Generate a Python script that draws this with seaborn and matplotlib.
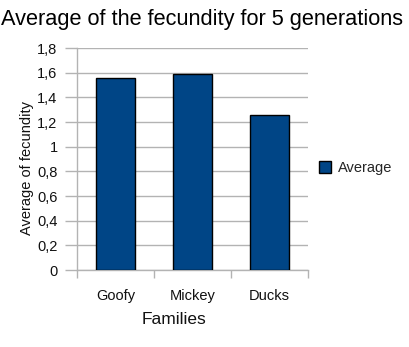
import matplotlib
matplotlib.use("Agg")
import matplotlib.pyplot as plt
import seaborn as sns
import pandas as pd
from matplotlib.patches import Patch
from matplotlib.ticker import FuncFormatter, FixedLocator

families = ["Goofy", "Mickey", "Ducks"]
average = [1.555, 1.587, 1.255]
y_ticks = [0, 0.2, 0.4, 0.6, 0.8, 1.0, 1.2, 1.4, 1.6, 1.8]

sns.set_theme(style="white")
plt.rcParams["font.family"] = ["Liberation Sans", "DejaVu Sans"]

df = pd.DataFrame({"Families": families, "Average": average})

fig = plt.figure(figsize=(4.10, 3.47), dpi=100)
W, H = 410, 347
ax = fig.add_axes([77 / W, (H - 270) / H, (308 - 77) / W, (270 - 48) / H])

bar_color = "#004586"
grid_color = "#b3b3b3"

sns.barplot(data=df, x="Families", y="Average", ax=ax, color=bar_color,
            width=0.5, edgecolor="black", linewidth=1.0, saturation=1, zorder=3)

ax.set_xlim(-0.5, 2.5)
ax.set_ylim(0, 1.8)
ax.set_yticks(y_ticks)
ax.yaxis.set_major_formatter(FuncFormatter(
    lambda v, _: ("%g" % round(v, 1)).replace(".", ",")))
ax.grid(axis="y", color=grid_color, linewidth=1, zorder=0)
ax.set_axisbelow(True)

for side in ("top", "right"):
    ax.spines[side].set_visible(False)
for side in ("left", "bottom"):
    ax.spines[side].set_color(grid_color)
    ax.spines[side].set_linewidth(1)

ax.tick_params(axis="y", which="major", direction="out", length=9, width=1,
               color=grid_color, labelsize=10.5, pad=5, left=True)
ax.tick_params(axis="x", which="major", length=0, labelsize=10.5, pad=14)
ax.xaxis.set_minor_locator(FixedLocator([-0.5, 0.5, 1.5, 2.5]))
ax.tick_params(axis="x", which="minor", direction="out", length=6, width=1,
               color=grid_color, bottom=True)
for lbl in ax.get_xticklabels() + ax.get_yticklabels():
    lbl.set_color("#111111")

ax.set_xlabel("")
ax.set_ylabel("")
fig.text(27 / W, 1 - 168 / H, "Average of fecundity", rotation=90,
         ha="center", va="center", fontsize=10.5, color="#111111")
fig.text(174 / W, 1 - 319 / H, "Families", ha="center", va="center",
         fontsize=12.5, color="#111111")
fig.text(1 / W, 1 - 19 / H, "Average of the fecundity for 5 generations",
         ha="left", va="center", fontsize=15.7, color="black")

handle = Patch(facecolor=bar_color, edgecolor="black", linewidth=1.0)
fig.legend([handle], ["Average"], loc="center left",
           bbox_to_anchor=(312 / W, 1 - 168 / H), frameon=False,
           fontsize=10.5, handlelength=0.8, handleheight=0.8,
           handletextpad=0.5, borderpad=0)

fig.savefig("out.png", dpi=100)
